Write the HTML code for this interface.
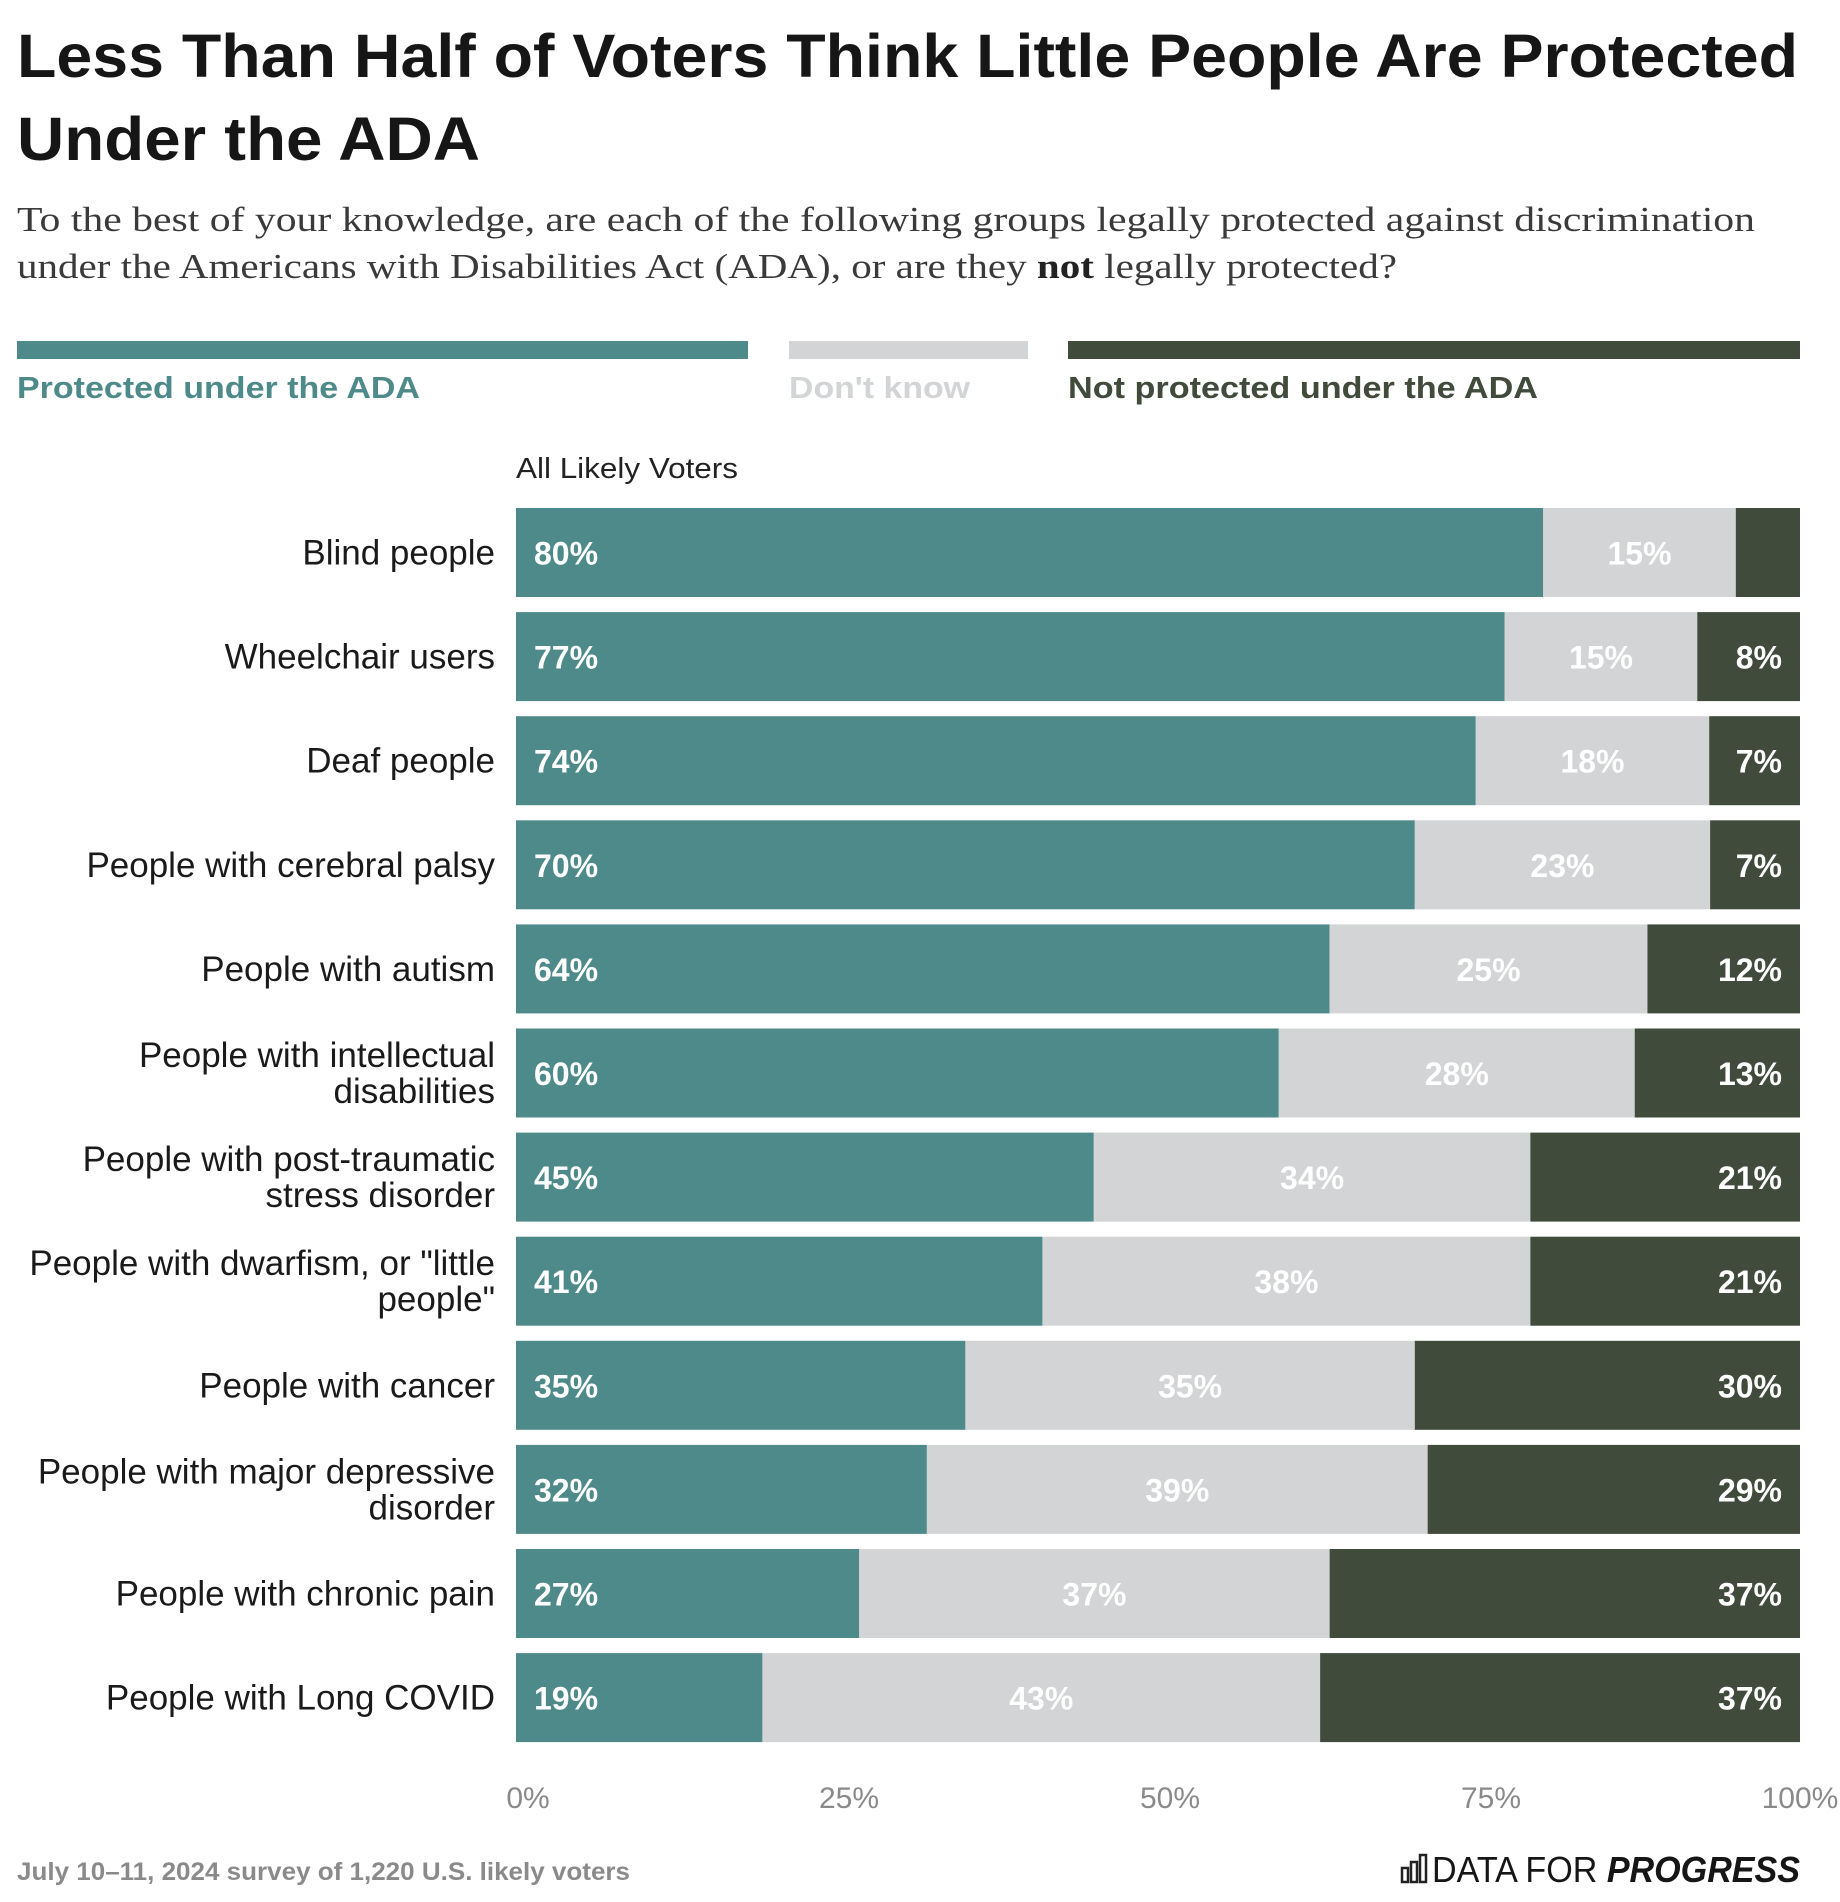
<!DOCTYPE html>
<html><head><meta charset="utf-8">
<style>
html,body{margin:0;padding:0;background:#fff;}
svg{display:block;font-family:"Liberation Sans",sans-serif;}
</style></head>
<body>
<svg id="chart" width="1840" height="1902" viewBox="0 0 1840 1902" xmlns="http://www.w3.org/2000/svg">
<rect width="1840" height="1902" fill="#fff"/>
<text x="17" y="77" font-size="61" font-weight="bold" fill="#161616" textLength="1781" lengthAdjust="spacingAndGlyphs">Less Than Half of Voters Think Little People Are Protected</text>
<text x="17" y="160" font-size="61" font-weight="bold" fill="#161616" textLength="463" lengthAdjust="spacingAndGlyphs">Under the ADA</text>
<text x="17" y="231" font-size="35" fill="#3a3a3a" font-family="Liberation Serif, serif" textLength="1738" lengthAdjust="spacingAndGlyphs">To the best of your knowledge, are each of the following groups legally protected against discrimination</text>
<text x="17" y="278" font-size="35" fill="#3a3a3a" font-family="Liberation Serif, serif" textLength="1380" lengthAdjust="spacingAndGlyphs">under the Americans with Disabilities Act (ADA), or are they <tspan font-weight="bold" fill="#222">not</tspan> legally protected?</text>

<g>
<rect x="17" y="341" width="731" height="18" fill="#4f8a8b"/>
<rect x="789" y="341" width="239" height="18" fill="#d3d4d6"/>
<rect x="1068" y="341" width="732" height="18" fill="#404b3b"/>
<text x="17" y="398" font-size="31" font-weight="bold" fill="#4f8a8b" textLength="403" lengthAdjust="spacingAndGlyphs">Protected under the ADA</text>
<text x="789" y="398" font-size="31" font-weight="bold" fill="#d3d4d6" textLength="181" lengthAdjust="spacingAndGlyphs">Don't know</text>
<text x="1068" y="398" font-size="31" font-weight="bold" fill="#404b3b" textLength="470" lengthAdjust="spacingAndGlyphs">Not protected under the ADA</text>
</g>
<text x="516" y="478" font-size="29" fill="#222" textLength="222" lengthAdjust="spacingAndGlyphs">All Likely Voters</text>
<g id="bars"></g>
<g id="axis"></g>
<text x="17" y="1880" font-size="25" font-weight="bold" fill="#8a8a8a" textLength="613" lengthAdjust="spacingAndGlyphs">July 10–11, 2024 survey of 1,220 U.S. likely voters</text>
<g>
<g fill="none" stroke="#222" stroke-width="2.5">
<rect x="1402" y="1868" width="6" height="14"/><rect x="1411" y="1862" width="6" height="20"/><rect x="1420" y="1855" width="6" height="27"/>
</g>
<text x="1432" y="1882" font-size="36" fill="#161616" textLength="368" lengthAdjust="spacingAndGlyphs">DATA FOR <tspan font-weight="bold" font-style="italic">PROGRESS</tspan></text>
</g>
</svg>
<script>
const categories = ["Blind people","Wheelchair users","Deaf people","People with cerebral palsy","People with autism","People with intellectual disabilities","People with post-traumatic stress disorder","People with dwarfism, or \"little people\"","People with cancer","People with major depressive disorder","People with chronic pain","People with Long COVID"];
const labelLines = [["Blind people"],["Wheelchair users"],["Deaf people"],["People with cerebral palsy"],["People with autism"],["People with intellectual","disabilities"],["People with post-traumatic","stress disorder"],["People with dwarfism, or \"little","people\""],["People with cancer"],["People with major depressive","disorder"],["People with chronic pain"],["People with Long COVID"]];
const protectedVals = [80,77,74,70,64,60,45,41,35,32,27,19];
const dontKnowVals = [15,15,18,23,25,28,34,38,35,39,37,43];
const notProtectedVals = [5,8,7,7,12,13,21,21,30,29,37,37];
const tickValues = [0,25,50,75,100];
const tickLabels = ["0%","25%","50%","75%","100%"];

const NS = "http://www.w3.org/2000/svg";
const X0 = 516, X1 = 1800, Y0 = 508, STEP = 104.1, BH = 89;
const xScale = v => X0 + (X1 - X0) * v / 100;
const yScale = i => Y0 + i * STEP;
const bars = document.getElementById('bars');
const axis = document.getElementById('axis');
function mk(tag, attrs, parent){const e=document.createElementNS(NS,tag);for(const k in attrs)e.setAttribute(k,attrs[k]);parent.appendChild(e);return e;}

categories.forEach((c,i)=>{
  const tot = protectedVals[i]+dontKnowVals[i]+notProtectedVals[i];
  const vals=[protectedVals[i],dontKnowVals[i],notProtectedVals[i]];
  const colors=["#4f8a8b","#d3d4d6","#404b3b"];
  const names=["protected","dont-know","not-protected"];
  let acc=0;
  const y=yScale(i);
  const g=mk('g',{},bars);
  
  
  vals.forEach((v,j)=>{
    const xa=xScale(acc/tot*100), xb=xScale((acc+v)/tot*100);
    const r=mk('rect',{x:xa,y:y,width:xb-xa,height:BH,fill:colors[j]},g);
    
    
    if(v>=6){
      let tx, anchor;
      if(j===0){tx=xa+18;anchor='start';}
      else if(j===1){tx=(xa+xb)/2;anchor='middle';}
      else {tx=xb-18;anchor='end';}
      const t=mk('text',{x:tx,y:y+BH/2+12,'text-anchor':anchor,'font-size':32,'font-weight':'bold',fill:'#fff'},g);
      
      
      t.textContent=v+'%';
    }
    acc+=v;
  });
  const lines=labelLines[i];
  lines.forEach((ln,k)=>{
    const off = lines.length===1 ? 12 : (k===0 ? -6 : 30);
    const t=mk('text',{x:495,y:y+BH/2+off,'text-anchor':'end','font-size':35,fill:'#1a1a1a'},g);
    
    
    t.textContent=ln;
  });
});
tickValues.forEach((v,i)=>{
  const t=mk('text',{x:xScale(v)+(i===4?0:12),y:1808,'text-anchor':'middle','font-size':30,fill:'#8a8a8a'},axis);
  
  
  t.textContent=tickLabels[i];
});
</script>
</body></html>
